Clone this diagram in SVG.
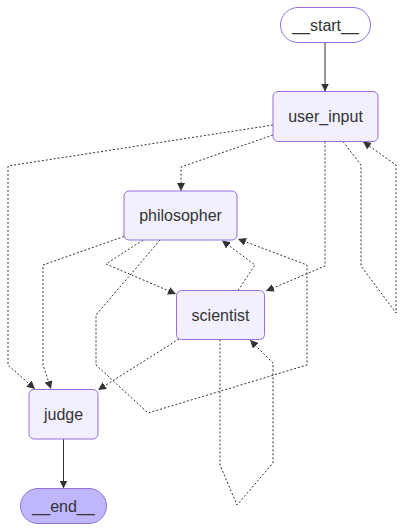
<svg xmlns="http://www.w3.org/2000/svg" width="404" height="531" viewBox="0 0 404 531">
<style>
.node rect{fill:#f2f0ff;stroke:#9370db;stroke-width:1}
.node.first rect{fill:#ffffff}
.node.last rect{fill:#bfb6fc}
.node text{font-family:"Liberation Sans",Arial,sans-serif;font-size:16px;fill:#333;text-anchor:middle}
.edge{fill:none;stroke:#333;stroke-width:1}
.dotted{stroke-dasharray:2 2}
</style>
<defs>
<marker id="arrow" viewBox="0 0 10 10" refX="10" refY="5" markerUnits="userSpaceOnUse" markerWidth="8" markerHeight="8" orient="auto">
<path d="M0,0 L10,5 L0,10 z" fill="#333" stroke="none"/>
</marker>
</defs>
<rect width="404" height="531" fill="#ffffff"/>
<g id="connectors">
<path class="edge" d="M325,42.5 L325,91.5" marker-end="url(#arrow)"/>
<path class="edge dotted" d="M273,135 L181,167 L181,191" marker-end="url(#arrow)"/>
<path class="edge dotted" d="M325,141.5 L325,266 L266,291" marker-end="url(#arrow)"/>
<path class="edge dotted" d="M273,125 L8,166 L8,365 L35,389" marker-end="url(#arrow)"/>
<path class="edge dotted" d="M343,141.5 L361,165 L361,266 L396,313 L396,165 L363,141.5" marker-end="url(#arrow)"/>
<path class="edge dotted" d="M143,240 L106,264 L176,294" marker-end="url(#arrow)"/>
<path class="edge dotted" d="M124,236.5 L43,265 L43,365 L51,389" marker-end="url(#arrow)"/>
<path class="edge dotted" d="M160,240 L96,315 L96,365 L148,413 L307,365 L307,265 L238,239" marker-end="url(#arrow)"/>
<path class="edge dotted" d="M238,290.5 L255,265 L222,240.5" marker-end="url(#arrow)"/>
<path class="edge dotted" d="M179,339 L98,390" marker-end="url(#arrow)"/>
<path class="edge dotted" d="M220,339.5 L220,465 L237,505 L273,463 L273,363 L250,340" marker-end="url(#arrow)"/>
<path class="edge" d="M63.5,439 L63.5,488.5" marker-end="url(#arrow)"/>
</g>
<g id="start" class="node first">
<rect x="280.5" y="7.5" width="90" height="35" rx="17.5" ry="17.5"/>
<text x="325.5" y="30.5">__start__</text>
</g>
<g id="user_input" class="node">
<rect x="273" y="91.5" width="105" height="50" rx="5" ry="5"/>
<text x="325.5" y="122">user_input</text>
</g>
<g id="philosopher" class="node">
<rect x="124" y="191" width="113" height="49" rx="5" ry="5"/>
<text x="180.5" y="221">philosopher</text>
</g>
<g id="scientist" class="node">
<rect x="176.5" y="290.5" width="88" height="49" rx="5" ry="5"/>
<text x="220.5" y="320.5">scientist</text>
</g>
<g id="judge" class="node">
<rect x="29" y="389.5" width="69" height="49.5" rx="5" ry="5"/>
<text x="63.5" y="419.5">judge</text>
</g>
<g id="end" class="node last">
<rect x="20.5" y="488.5" width="86" height="35" rx="17.5" ry="17.5"/>
<text x="63.5" y="511.5">__end__</text>
</g>
</svg>
